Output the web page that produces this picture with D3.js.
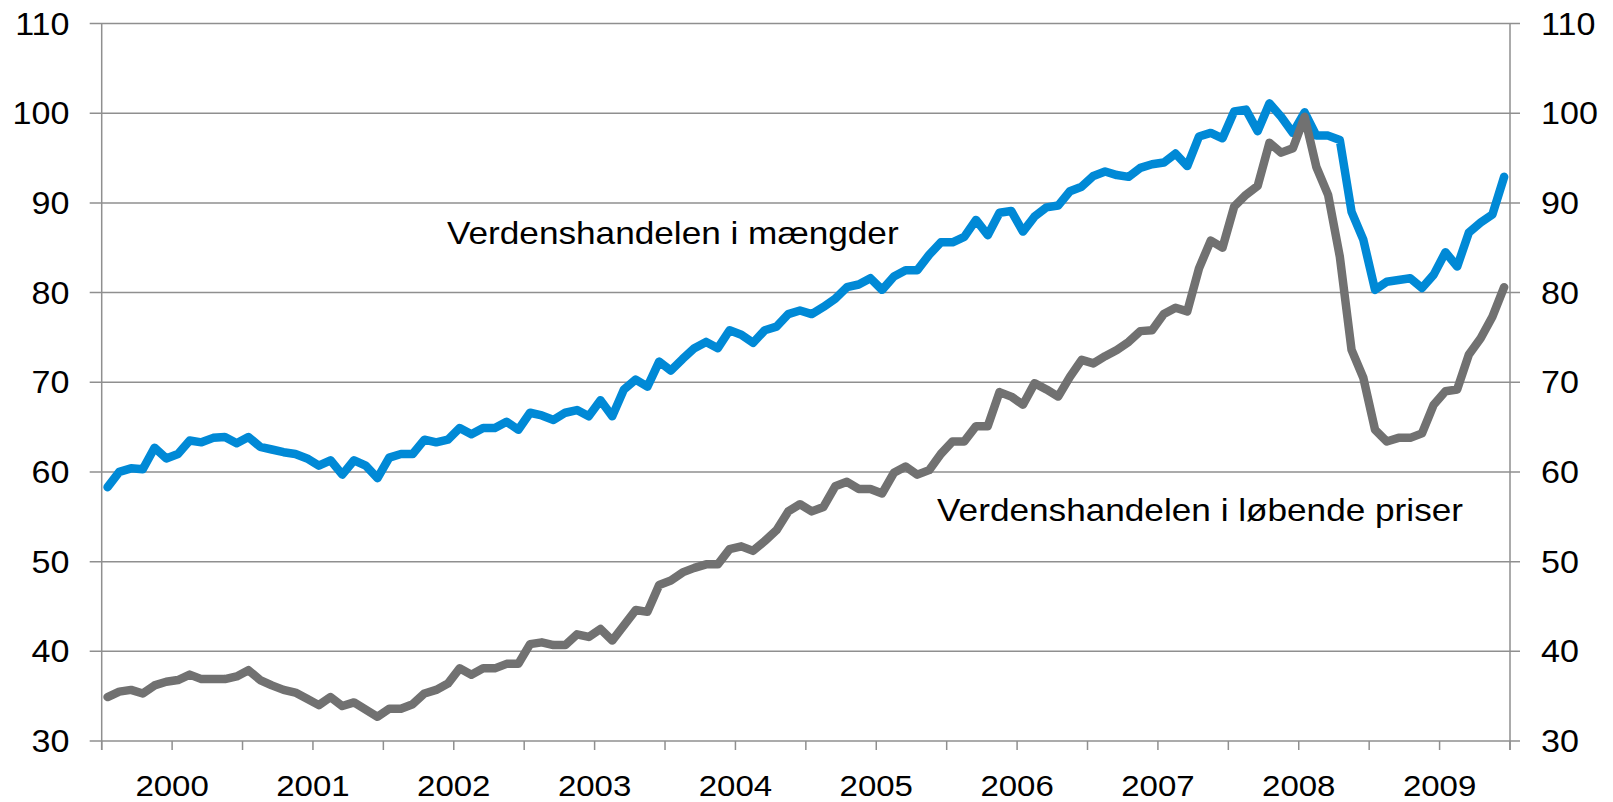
<!DOCTYPE html>
<html>
<head>
<meta charset="utf-8">
<script src="https://cdn.jsdelivr.net/npm/d3@7"></script>
<style>
  html, body { margin: 0; padding: 0; background: #fff; }
  svg { display: block; }
  text { font-family: "Liberation Sans", Arial, sans-serif; fill: #000; }
</style>
</head>
<body>
<svg id="chart" width="1613" height="802"></svg>
<script>
// ---- data (monthly, Jan 2000 - Dec 2009) ----
const years = ["2000","2001","2002","2003","2004","2005","2006","2007","2008","2009"];
const yTicks = [30,40,50,60,70,80,90,100,110];
const seriesNames = ["Verdenshandelen i mængder", "Verdenshandelen i løbende priser"];

const volume = [
  58.3,60.0,60.4,60.3,62.7,61.5,62.0,63.5,63.3,63.8,63.9,63.2,
  63.9,62.8,62.5,62.2,62.0,61.5,60.7,61.3,59.7,61.3,60.7,59.3,
  61.6,62.0,62.0,63.6,63.3,63.6,64.9,64.2,64.9,64.9,65.6,64.7,
  66.6,66.3,65.8,66.6,66.9,66.2,68.0,66.2,69.2,70.3,69.5,72.3,
  71.3,72.6,73.8,74.5,73.8,75.8,75.3,74.4,75.8,76.2,77.6,78.0,
  77.6,78.4,79.3,80.6,80.9,81.6,80.3,81.8,82.5,82.5,84.2,85.6,
  85.6,86.2,88.1,86.4,88.9,89.1,86.8,88.5,89.5,89.7,91.3,91.8,
  93.0,93.5,93.1,92.9,93.9,94.3,94.5,95.5,94.1,97.4,97.8,97.2,
  100.2,100.4,98.0,101.1,99.6,97.8,100.1,97.5,97.5,97.0,89.0,85.9,
  80.3,81.2,81.4,81.6,80.5,82.0,84.5,82.9,86.7,87.8,88.7,92.9
];

const prices = [
  34.9,35.5,35.7,35.3,36.2,36.6,36.8,37.4,36.9,36.9,36.9,37.2,
  37.9,36.8,36.2,35.7,35.4,34.7,34.0,34.9,33.9,34.3,33.5,32.7,
  33.6,33.6,34.1,35.3,35.7,36.4,38.1,37.4,38.1,38.1,38.6,38.6,
  40.8,41.0,40.7,40.7,41.9,41.6,42.5,41.2,42.9,44.6,44.4,47.4,
  47.9,48.8,49.3,49.7,49.7,51.4,51.7,51.2,52.3,53.5,55.6,56.4,
  55.6,56.1,58.4,58.9,58.1,58.1,57.6,59.9,60.6,59.7,60.2,62.0,
  63.4,63.4,65.1,65.1,68.9,68.4,67.5,69.9,69.2,68.4,70.6,72.5,
  72.1,72.9,73.6,74.5,75.7,75.8,77.6,78.3,77.9,82.7,85.8,85.0,
  89.6,90.9,91.9,96.7,95.6,96.1,99.6,94.0,90.9,84.0,73.6,70.5,
  64.7,63.4,63.8,63.8,64.3,67.5,69.0,69.2,73.1,74.9,77.3,80.6
];

// ---- layout ----
const svg = d3.select("#chart");
const L = 101.7, R = 1510, T = 23.5, B = 741;
const nMonths = years.length * 12;

const x = d3.scaleLinear().domain([0, nMonths]).range([L, R]);
const y = d3.scaleLinear().domain([30, 110]).range([B, T]);

const gridColor = "#8f8f8f";
const sx = 1.1; // horizontal stretch of reference typography

// gridlines (extend as tick marks on both sides)
svg.append("g").selectAll("line").data(yTicks).join("line")
  .attr("x1", L - 12).attr("x2", R + 10)
  .attr("y1", d => y(d)).attr("y2", d => y(d))
  .attr("stroke", gridColor).attr("stroke-width", 1.5);

// vertical axis lines
[L, R].forEach(px => {
  svg.append("line").attr("x1", px).attr("x2", px)
    .attr("y1", T).attr("y2", B + 9)
    .attr("stroke", gridColor).attr("stroke-width", 1.5);
});

// x tick marks every 6 months
const xTickVals = d3.range(0, nMonths + 1, 6);
svg.append("g").selectAll("line").data(xTickVals).join("line")
  .attr("x1", d => x(d)).attr("x2", d => x(d))
  .attr("y1", B).attr("y2", B + 9)
  .attr("stroke", gridColor).attr("stroke-width", 1.5);

// y labels left & right
svg.append("g").selectAll("text").data(yTicks).join("text")
  .attr("transform", d => `translate(${69.5},${y(d) + 11}) scale(${sx},1)`)
  .attr("text-anchor", "end")
  .style("font-size", "31px")
  .text(d => d);

svg.append("g").selectAll("text").data(yTicks).join("text")
  .attr("transform", d => `translate(${1541},${y(d) + 11}) scale(${sx},1)`)
  .attr("text-anchor", "start")
  .style("font-size", "31px")
  .text(d => d);

// year labels centred in each year
svg.append("g").selectAll("text").data(years).join("text")
  .attr("transform", (d, i) => `translate(${x(i * 12 + 6)},${795.5}) scale(${sx},1)`)
  .attr("text-anchor", "middle")
  .style("font-size", "30px")
  .text(d => d);

// lines
const line = d3.line().x((d, i) => x(i + 0.5)).y(d => y(d));

svg.append("path").datum(volume)
  .attr("d", line)
  .attr("fill", "none").attr("stroke", "#0089d6")
  .attr("stroke-width", 8.5)
  .attr("stroke-linejoin", "round").attr("stroke-linecap", "round");

svg.append("path").datum(prices)
  .attr("d", line)
  .attr("fill", "none").attr("stroke", "#717171")
  .attr("stroke-width", 8.5)
  .attr("stroke-linejoin", "round").attr("stroke-linecap", "round");

// series annotations
const sa = 1.135;
svg.append("text")
  .attr("transform", `translate(447,243.5) scale(${sa},1)`)
  .attr("text-anchor", "start")
  .style("font-size", "31px")
  .text(seriesNames[0]);

svg.append("text")
  .attr("transform", `translate(1463,520.5) scale(${sa},1)`)
  .attr("text-anchor", "end")
  .style("font-size", "31px")
  .text(seriesNames[1]);
</script>
</body>
</html>
